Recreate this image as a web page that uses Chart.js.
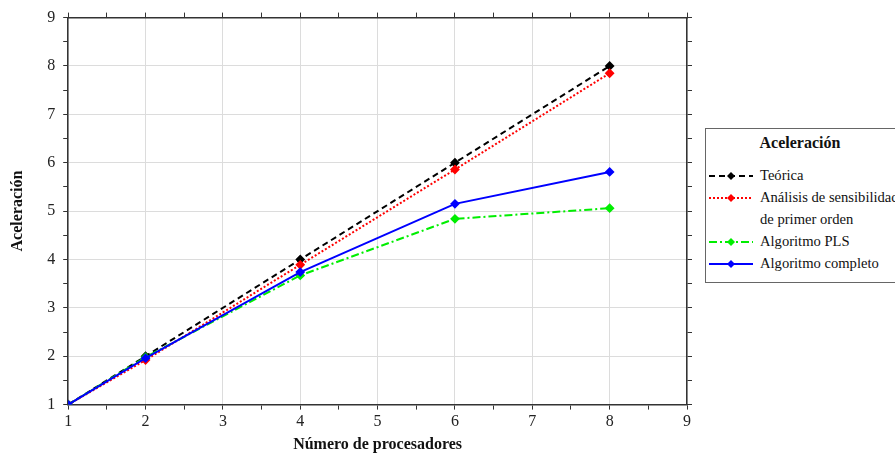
<!DOCTYPE html>
<html>
<head>
<meta charset="utf-8">
<script src="https://cdn.jsdelivr.net/npm/chart.js@4.4.1/dist/chart.umd.min.js"></script>
<style>
  html, body { margin: 0; padding: 0; background: #fff; overflow: hidden; }
  #wrap { position: relative; width: 895px; height: 454px; }
  #legend {
    position: absolute; left: 705px; top: 128px; width: 210px; height: 155px;
    border: 1px solid #666; background: #fff; box-sizing: border-box;
    font-family: "Liberation Serif", serif; font-size: 14.6px; color: #111;
  }
  #legend h4 { margin: 4px 0 12px 0; text-align: center; font-size: 16px; font-weight: bold; padding-right: 20px; line-height: 20px; }
  #legend .item { display: flex; align-items: flex-start; height: 22px; line-height: 20px; white-space: nowrap; }
  #legend svg { margin: 0 7px 0 3px; flex: none; }
</style>
</head>
<body>
<div id="wrap">
  <canvas id="myChart" width="895" height="454"></canvas>
  <div id="legend"></div>
</div>
<script>
// Speedup data - START
const processors = [1, 2, 4, 6, 8];
const teorica = [1, 2, 4, 6, 8];
const sensibilidad = [1, 1.92, 3.89, 5.86, 7.85];
const pls = [1, 1.98, 3.67, 4.84, 5.06];
const completo = [1, 1.96, 3.74, 5.15, 5.81];

const seriesNames = ['Teórica', 'Análisis de sensibilidad de primer orden', 'Algoritmo PLS', 'Algoritmo completo'];
const seriesColors = ['#000000', '#ff0000', '#00ee00', '#0000ff'];
const seriesDash = [[6, 4], [2, 2], [8, 3, 2, 3], []];
const seriesValues = [teorica, sensibilidad, pls, completo];

const serif = "'Liberation Serif', 'Times New Roman', serif";

const datasets = seriesValues.map(function (vals, i) {
    return {
        label: seriesNames[i],
        data: processors.map(function (p, k) { return {x: p, y: vals[k]}; }),
        borderColor: seriesColors[i],
        backgroundColor: seriesColors[i],
        borderDash: seriesDash[i],
        borderWidth: 2,
        pointStyle: 'rectRot',
        pointRadius: 3.5,
        pointHoverRadius: 3.5,
        tension: 0,
        order: 3 - i
    };
});

const isInt = function (v) { return Math.abs(v - Math.round(v)) < 1e-6; };

function frameAxis(position, showLabels, titleText, tickPad, titlePad) {
    return {
        type: 'linear',
        position: position,
        min: 1,
        max: 9,
        ticks: {
            stepSize: 0.5,
            display: showLabels,
            color: '#222',
            padding: tickPad,
            font: {family: serif, size: 16},
            callback: function (v) { return isInt(v) ? v : ''; }
        },
        grid: {
            drawOnChartArea: showLabels,
            color: function (ctx) { return isInt(ctx.tick.value) ? '#dcdcdc' : 'rgba(0,0,0,0)'; },
            tickColor: '#333',
            tickLength: 5,
            lineWidth: 1
        },
        border: {display: true, color: '#333', width: 1.5},
        title: {
            display: !!titleText,
            text: titleText || '',
            color: '#111',
            font: {family: serif, size: 16, weight: 'bold'},
            padding: titlePad || 0
        }
    };
}

const config = {
    type: 'line',
    data: {datasets: datasets},
    options: {
        responsive: false,
        animation: false,
        layout: {padding: {left: 6, right: 203, top: 11, bottom: 0}},
        plugins: {
            legend: {display: false},
            tooltip: {enabled: false},
            title: {display: false}
        },
        scales: {
            x: frameAxis('bottom', true, 'Número de procesadores', 3, {top: 0, bottom: 0}),
            y: frameAxis('left', true, 'Aceleración', 8, {top: 2, bottom: 12}),
            x2: frameAxis('top', false),
            y2: frameAxis('right', false)
        }
    }
};

new Chart("myChart", config);
// Speedup data - END

// HTML legend
const legend = document.getElementById('legend');
let html = '<h4>Aceleración</h4>';
seriesNames.forEach(function (name, i) {
    const dash = seriesDash[i].length ? 'stroke-dasharray="' + seriesDash[i].join(' ') + '"' : '';
    const svg = '<svg width="44" height="20"><line x1="0" y1="11" x2="44" y2="11" stroke="' + seriesColors[i] +
        '" stroke-width="2" ' + dash + '/><polygon points="22,7 26,11 22,15 18,11" fill="' + seriesColors[i] + '"/></svg>';
    if (i === 1) {
        html += '<div class="item">' + svg + '<span>Análisis de sensibilidad</span></div>';
        html += '<div class="item"><svg width="44" height="20"></svg><span>de primer orden</span></div>';
    } else {
        html += '<div class="item">' + svg + '<span>' + name + '</span></div>';
    }
});
legend.innerHTML = html;
</script>
</body>
</html>
